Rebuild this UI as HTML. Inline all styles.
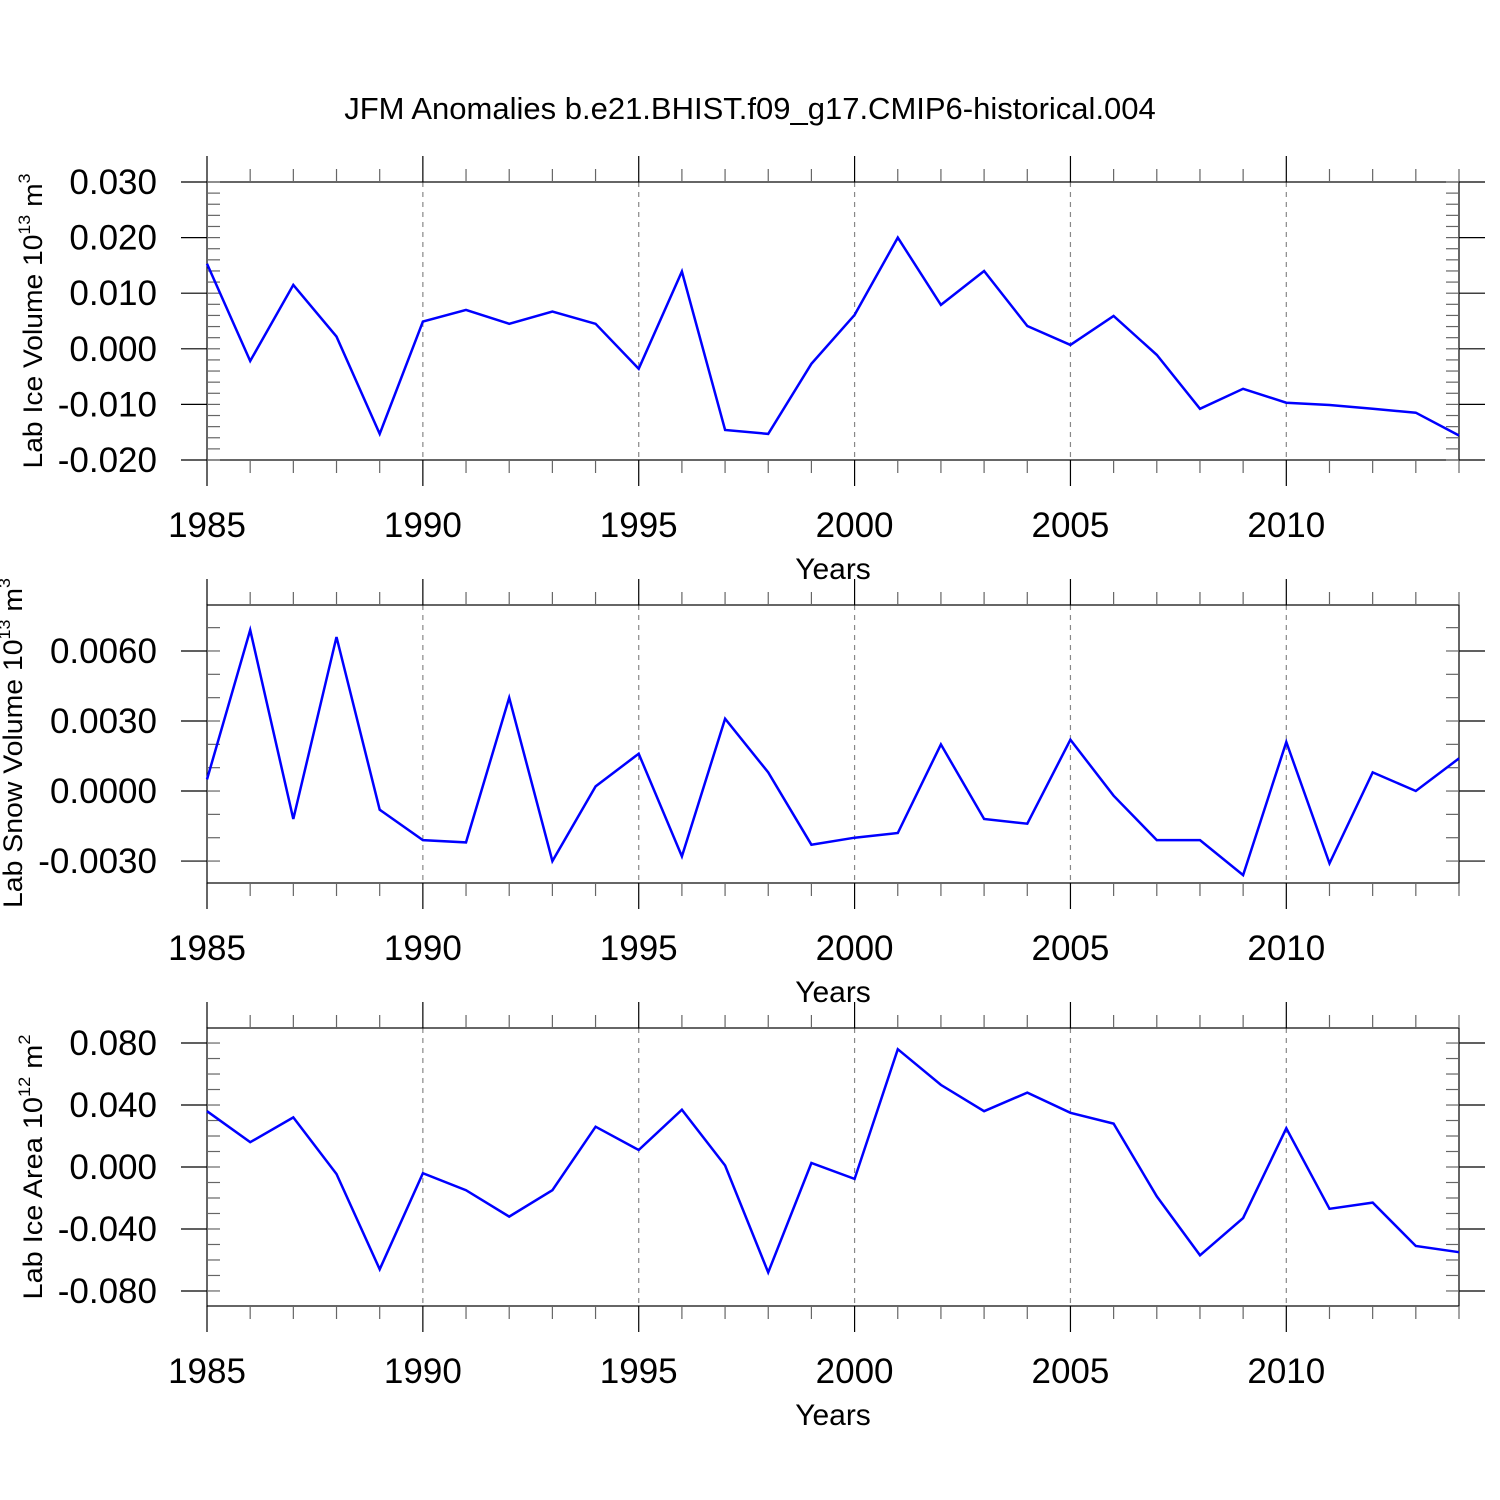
<!DOCTYPE html>
<html><head><meta charset="utf-8"><style>
html,body{margin:0;padding:0;background:#fff}
svg{display:block;font-family:"Liberation Sans",sans-serif}
</style></head><body>
<svg id="chart" width="1500" height="1500" viewBox="0 0 1500 1500" xmlns="http://www.w3.org/2000/svg">
<rect width="1500" height="1500" fill="#fff"/>
<text x="750" y="119" font-size="31" text-anchor="middle">JFM Anomalies b.e21.BHIST.f09_g17.CMIP6-historical.004</text>
</svg>
<script>
const years = [1985,1986,1987,1988,1989,1990,1991,1992,1993,1994,1995,1996,1997,1998,1999,2000,2001,2002,2003,2004,2005,2006,2007,2008,2009,2010,2011,2012,2013,2014];
const iceVolume = [0.0153,-0.0022,0.0115,0.0022,-0.0153,0.0049,0.0070,0.0045,0.0067,0.0045,-0.0036,0.0139,-0.0146,-0.0153,-0.0027,0.0061,0.0200,0.0079,0.0140,0.0041,0.0007,0.0059,-0.0011,-0.0108,-0.0072,-0.0097,-0.0101,-0.0108,-0.0115,-0.0156];
const snowVolume = [0.0005,0.0069,-0.0012,0.0066,-0.0008,-0.0021,-0.0022,0.0040,-0.0030,0.0002,0.0016,-0.0028,0.0031,0.0008,-0.0023,-0.0020,-0.0018,0.0020,-0.0012,-0.0014,0.0022,-0.0002,-0.0021,-0.0021,-0.0036,0.0021,-0.0031,0.0008,0.0000,0.0014];
const iceArea = [0.036,0.016,0.032,-0.0045,-0.066,-0.004,-0.015,-0.032,-0.015,0.026,0.011,0.037,0.001,-0.068,0.0026,-0.0077,0.076,0.053,0.036,0.048,0.035,0.028,-0.019,-0.057,-0.033,0.025,-0.027,-0.023,-0.051,-0.055];
const xTickLabels = ["1985","1990","1995","2000","2005","2010"];
const p1Ticks = ["0.030","0.020","0.010","0.000","-0.010","-0.020"];
const p2Ticks = ["0.0060","0.0030","0.0000","-0.0030"];
const p3Ticks = ["0.080","0.040","0.000","-0.040","-0.080"];

const NS="http://www.w3.org/2000/svg";
const svg=document.getElementById('chart');
function mk(tag,attrs,parent){const e=document.createElementNS(NS,tag);for(const k in attrs)e.setAttribute(k,attrs[k]);(parent||svg).appendChild(e);return e;}

const X0=207,X1=1459;
function xs(yr){return X0+(yr-1985)*(X1-X0)/29;}

const panels=[
 {name:'ice-volume',top:182,bot:460,ymin:-0.020,ymax:0.030,data:iceVolume,ticks:p1Ticks,major:0.010,minor:0.002,title:'Lab Ice Volume 10',sup:'13',unit:' m',usup:'3',tlen:295,tx:42},
 {name:'snow-volume',top:605,bot:883,ymin:-0.00394,ymax:0.00797,data:snowVolume,ticks:p2Ticks,major:0.003,minor:0.001,title:'Lab Snow Volume 10',sup:'13',unit:' m',usup:'3',tlen:330,tx:22},
 {name:'ice-area',top:1028,bot:1306,ymin:-0.0897,ymax:0.0897,data:iceArea,ticks:p3Ticks,major:0.04,minor:0.01,title:'Lab Ice Area 10',sup:'12',unit:' m',usup:'2',tlen:265,tx:42}
];

panels.forEach(p=>{
 const g=mk('g',{});
 
 
 const ys=v=>p.bot-(v-p.ymin)*(p.bot-p.top)/(p.ymax-p.ymin);
 xTickLabels.forEach(t=>{const yr=+t;if(yr===1985)return;
  const l=mk('line',{x1:xs(yr),x2:xs(yr),y1:p.top,y2:p.bot,stroke:'#888','stroke-width':1.2,'stroke-dasharray':'5,5'},g);
  
  
 });
 const box=mk('rect',{x:X0,y:p.top,width:X1-X0,height:p.bot-p.top,fill:'none',stroke:'#000','stroke-width':1.2},g);
 
 
 years.forEach(yr=>{const maj=(yr%5===0);const len=maj?26:13;const x=xs(yr);
  mk('line',{x1:x,x2:x,y1:p.top-len,y2:p.top,stroke:maj?'#000':'#666','stroke-width':1.2},g);
  mk('line',{x1:x,x2:x,y1:p.bot,y2:p.bot+len,stroke:maj?'#000':'#666','stroke-width':1.2},g);
 });
 const nMin=Math.ceil(p.ymin/p.minor-1e-6), nMax=Math.floor(p.ymax/p.minor+1e-6);
 for(let i=nMin;i<=nMax;i++){const v=i*p.minor;const y=ys(v);
  mk('line',{x1:X0,x2:X0+13,y1:y,y2:y,stroke:'#666','stroke-width':1.2},g);
  mk('line',{x1:X1-13,x2:X1,y1:y,y2:y,stroke:'#666','stroke-width':1.2},g);
 }
 p.ticks.forEach(t=>{const v=parseFloat(t);const y=ys(v);
  mk('line',{x1:X0-26,x2:X0,y1:y,y2:y,stroke:'#000','stroke-width':1.2},g);
  mk('line',{x1:X1,x2:X1+26,y1:y,y2:y,stroke:'#000','stroke-width':1.2},g);
  const tx=mk('text',{x:157,y:y+12,'font-size':35,'text-anchor':'end'},g);
  tx.textContent=t;
  
  
 });
 xTickLabels.forEach(t=>{
  const tx=mk('text',{x:xs(+t),y:p.bot+77,'font-size':35,'text-anchor':'middle'},g);
  tx.textContent=t;
  
  
 });
 const xt=mk('text',{x:833,y:p.bot+119,'font-size':30,'text-anchor':'middle'},g);
 xt.textContent='Years';
 
 
 const cy=(p.top+p.bot)/2+(p.name==='snow-volume'?-1:0);
 const yt=mk('text',{transform:`translate(${p.tx},${cy}) rotate(-90)`,'font-size':27,'text-anchor':'middle',textLength:p.tlen,lengthAdjust:'spacingAndGlyphs'},g);
 
 
 const a=document.createElementNS(NS,'tspan');a.textContent=p.title;yt.appendChild(a);
 const b=document.createElementNS(NS,'tspan');b.setAttribute('dy','-12');b.setAttribute('font-size','17');b.textContent=p.sup;yt.appendChild(b);
 const c=document.createElementNS(NS,'tspan');c.setAttribute('dy','12');c.textContent=p.unit;yt.appendChild(c);
 const d=document.createElementNS(NS,'tspan');d.setAttribute('dy','-12');d.setAttribute('font-size','17');d.textContent=p.usup;yt.appendChild(d);
 const pts=p.data.map((v,i)=>xs(years[i]).toFixed(1)+','+ys(v).toFixed(1)).join(' ');
 const pl=mk('polyline',{points:pts,fill:'none',stroke:'#0000ff','stroke-width':2.5,'stroke-linejoin':'miter'},g);
 
 
});
</script>
</body></html>
